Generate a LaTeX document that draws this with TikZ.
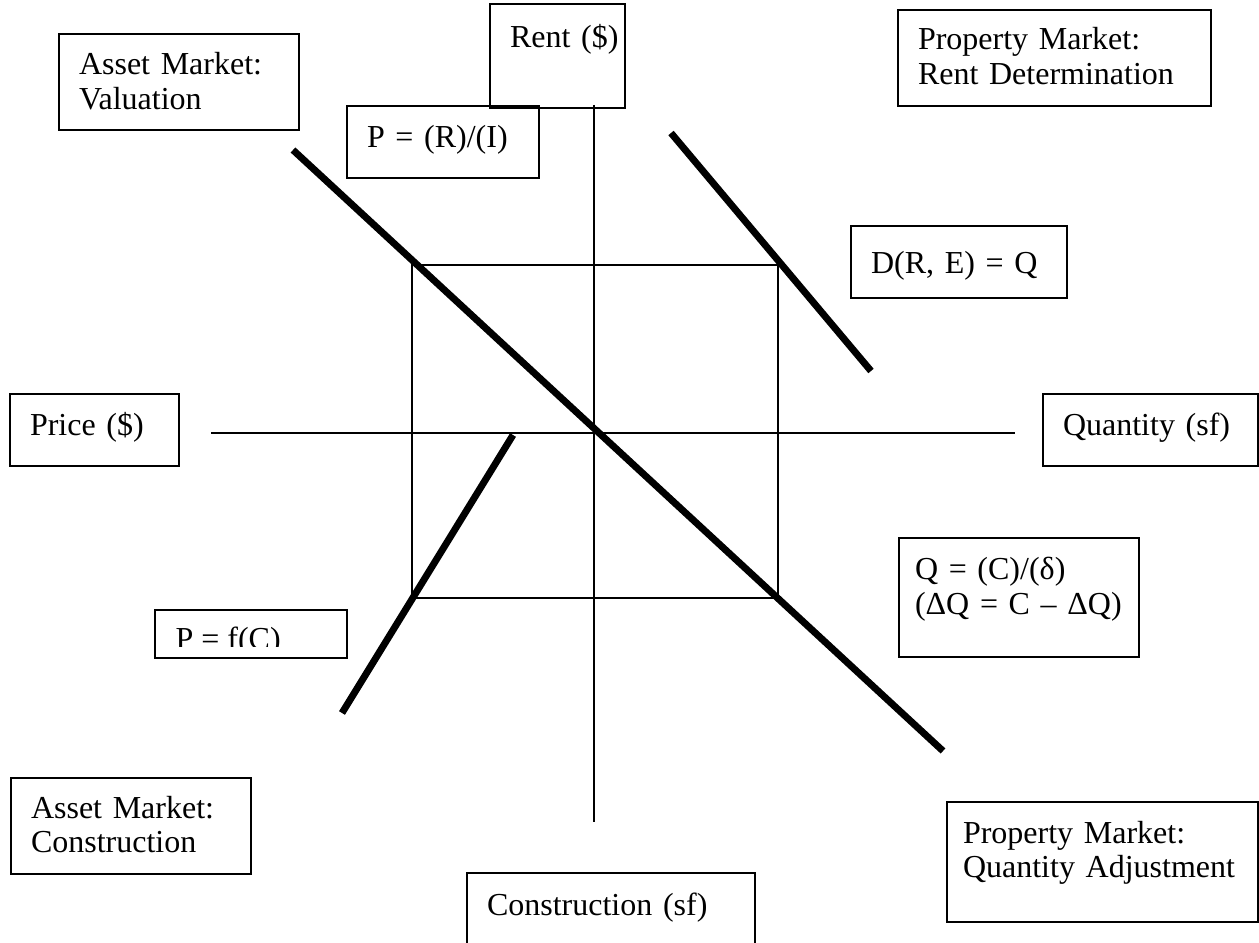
\documentclass[tikz,border=0pt]{standalone}
\usepackage{fontspec}
\setmainfont{Liberation Serif}

\begin{document}
\begin{tikzpicture}[x=0.375pt, y=-0.375pt,
    box/.style={draw, line width=0.75pt, anchor=base west, inner xsep=7.5pt, inner ysep=0pt,
                outer sep=0pt, align=left, font=\fontsize{12}{13.1}\selectfont},
    axis/.style={line width=1.1pt},
    curve/.style={line width=2.6pt}]
    \clip (0,0) rectangle (1259,943);

    % the four quadrants
    \coordinate (corner1) at (412,265);
    \coordinate (corner2) at (778,598);
    \draw[axis] (corner1) rectangle (corner2);
    \draw[axis] (594,105) -- (594,822);
    \draw[axis] (211,433) -- (1015,433);
    \draw[curve] (293,150) -- (943,751);
    \draw[curve] (671,133) -- (871,371);
    \draw[curve] (513,435) -- (342,713);

    % labels
    \node[box, text width=75pt, text height=15.375pt, text depth=20.625pt] (valuation) at (59,75) {Asset Market:\\Valuation};
    \node[box, text width=35.6pt, text height=16.5pt, text depth=22.5pt] (rent) at (490,48) {Rent~(\$)};
    \node[box, text width=102.375pt, text height=15pt, text depth=21pt] (rentdet) at (898,50) {Property Market:\\Rent Determination};
    \node[box, text width=57pt, text height=15.75pt, text depth=11.25pt] (valeq) at (347,148) {P = (R)/(I)};
    \node[box, text width=66pt, text height=18pt, text depth=9pt] (demeq) at (851,274) {D(R, E) = Q};
    \node[box, text width=48.375pt, text height=15.75pt, text depth=11.25pt] (price) at (10,436) {Price (\$)};
    \node[box, text width=65.625pt, text height=15.75pt, text depth=11.25pt] (quantity) at (1043,436) {Quantity (sf)};
    \node[box, inner xsep=6pt, text width=78pt, text height=15.75pt, text depth=28.875pt] (stockeq) at (899,580) {Q = (C)/(δ)\\(ΔQ~=~C~–~ΔQ)};
    \node[box, text width=75pt, text height=15pt, text depth=21pt] (construction) at (11,818) {Asset Market:\\Construction};
    \node[box, text width=93pt, text height=15.75pt, text depth=28.125pt] (consaxis) at (467,915) {Construction (sf)};
    \node[box, inner xsep=6pt, text width=104.625pt, text height=15.375pt, text depth=29.625pt] (adjust) at (947,843) {Property Market:\\Quantity~Adjustment};

    % cost box, text cut off at the bottom
    \node[draw, line width=0.75pt, anchor=north west, inner sep=0pt, outer sep=0pt,
          minimum width=72pt, minimum height=18pt] (costbox) at (155,610) {};
    \begin{scope}
        \clip (155,610) rectangle (347,647);
        \node[anchor=base west, inner sep=0pt, font=\fontsize{12}{13.1}\selectfont] (costeq) at (175,650) {P = f(C)};
    \end{scope}
\end{tikzpicture}
\end{document}
